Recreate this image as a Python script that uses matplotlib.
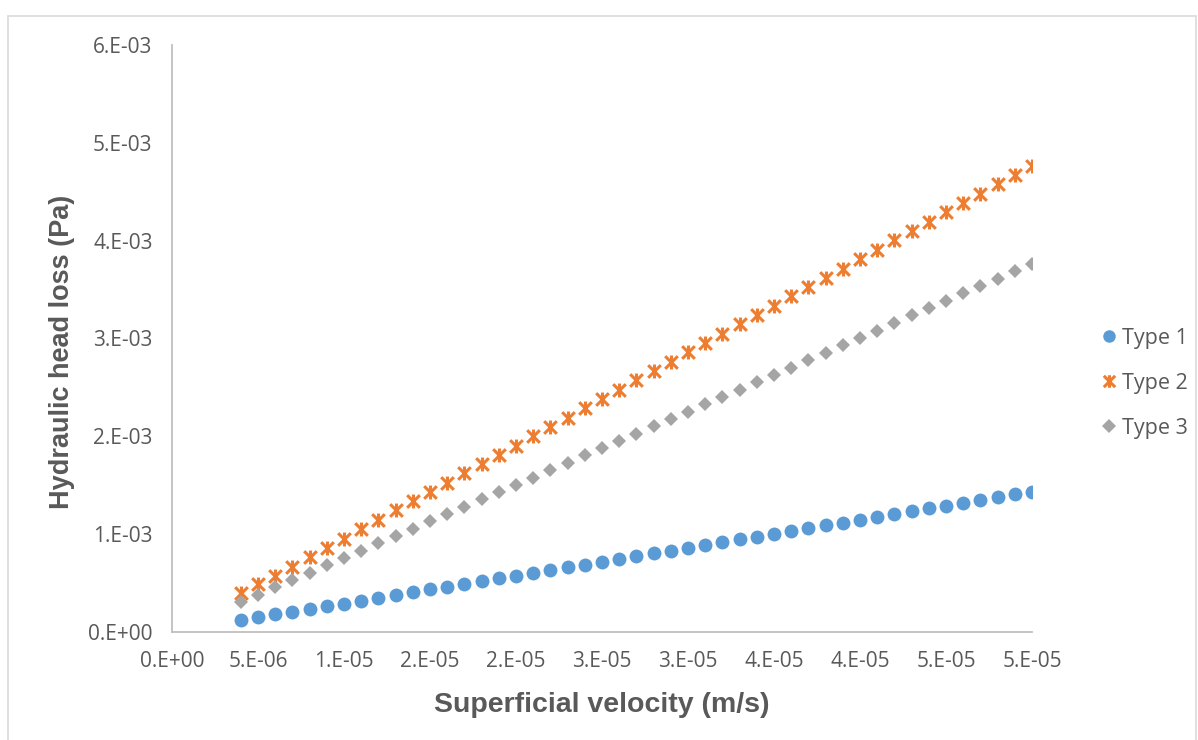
import numpy as np
import matplotlib.pyplot as plt
from matplotlib.path import Path
from matplotlib.patches import Rectangle

# superficial velocity, m/s (4e-6 .. 5e-5, one point per 1e-6)
velocity = np.arange(4, 51) * 1e-6

# hydraulic head loss (x 1e-3 Pa)
type1 = [0.123, 0.157, 0.181, 0.208, 0.235, 0.263, 0.290, 0.320, 0.351, 0.379,
         0.409, 0.437, 0.464, 0.494, 0.522, 0.549, 0.576, 0.603, 0.634, 0.662,
         0.686, 0.716, 0.747, 0.774, 0.805, 0.832, 0.859, 0.890, 0.917, 0.948,
         0.975, 1.006, 1.033, 1.064, 1.091, 1.118, 1.149, 1.178, 1.207, 1.234,
         1.265, 1.292, 1.323, 1.350, 1.378, 1.408, 1.435]
type2 = [0.396, 0.488, 0.576, 0.668, 0.764, 0.860, 0.955, 1.051, 1.146, 1.244,
         1.340, 1.432, 1.527, 1.623, 1.715, 1.810, 1.905, 2.001, 2.093, 2.192,
         2.285, 2.381, 2.476, 2.572, 2.668, 2.763, 2.858, 2.954, 3.046, 3.145,
         3.241, 3.337, 3.432, 3.527, 3.622, 3.714, 3.810, 3.906, 4.004, 4.099,
         4.195, 4.290, 4.386, 4.482, 4.577, 4.673, 4.768]
type3 = [0.307, 0.382, 0.457, 0.532, 0.607, 0.682, 0.757, 0.832, 0.907, 0.982,
         1.057, 1.132, 1.207, 1.282, 1.357, 1.432, 1.503, 1.578, 1.654, 1.731,
         1.806, 1.881, 1.956, 2.028, 2.103, 2.178, 2.253, 2.328, 2.403, 2.478,
         2.553, 2.628, 2.703, 2.778, 2.856, 2.931, 3.006, 3.081, 3.156, 3.236,
         3.311, 3.386, 3.461, 3.536, 3.612, 3.688, 3.763]

series_names = ['Type 1', 'Type 2', 'Type 3']

x_ticks = np.arange(0, 11) * 5e-6
x_labels = ['0.E+00', '5.E-06', '1.E-05', '2.E-05', '2.E-05', '3.E-05',
            '3.E-05', '4.E-05', '4.E-05', '5.E-05', '5.E-05']
y_ticks = np.arange(0, 7) * 1e-3
y_labels = ['0.E+00', '1.E-03', '2.E-03', '3.E-03', '4.E-03', '5.E-03', '6.E-03']

# excel style "star": an X with a vertical bar through it
star = Path([(-1, -1), (1, 1), (-1, 1), (1, -1), (0, -1.1), (0, 1.1)],
            [Path.MOVETO, Path.LINETO, Path.MOVETO, Path.LINETO, Path.MOVETO, Path.LINETO])

grey_txt = '#595959'
plt.rcParams['font.family'] = ['Open Sans', 'DejaVu Sans']

fig = plt.figure(figsize=(11.98, 7.40), dpi=100)
fig.patches.append(Rectangle((8 / 1198, -0.01), 1188 / 1198, 1 - 16 / 740 + 0.01,
                             transform=fig.transFigure, fill=False,
                             edgecolor='#D9D9D9', linewidth=1.2))
ax = fig.add_axes([172 / 1198, 1 - 632 / 740, (1032 - 172) / 1198, (632 - 45) / 740])

y1 = np.array(type1) * 1e-3
y2 = np.array(type2) * 1e-3
y3 = np.array(type3) * 1e-3
ax.plot(velocity, y1, 'o', color='#5B9BD5', markersize=10, markeredgewidth=0,
        label=series_names[0])
ax.plot(velocity, y2, linestyle='none', marker=star, color='#ED7D31',
        markersize=10, markeredgewidth=2.2, label=series_names[1])
ax.plot(velocity, y3, 'D', color='#A5A5A5', markersize=7.5, markeredgewidth=0,
        label=series_names[2])

ax.set_xlim(0, 5e-5)
ax.set_ylim(0, 6e-3)
ax.set_xticks(x_ticks)
ax.set_xticklabels(x_labels)
ax.set_yticks(y_ticks)
ax.set_yticklabels(y_labels)
ax.tick_params(length=0, labelsize=15, labelcolor=grey_txt)
ax.tick_params(axis='y', pad=14)
ax.tick_params(axis='x', pad=14)

for s in ['top', 'right']:
    ax.spines[s].set_visible(False)
for s in ['left', 'bottom']:
    ax.spines[s].set_color('#BFBFBF')
    ax.spines[s].set_linewidth(1.3)

ax.set_xlabel('Superficial velocity (m/s)', fontsize=20.5, fontweight='bold',
              color=grey_txt, family='Liberation Sans', labelpad=14)
ax.set_ylabel('Hydraulic head loss (Pa)', fontsize=19.5, fontweight='bold',
              color=grey_txt, family='Liberation Sans')
ax.yaxis.set_label_coords(-97 / 860, 0.477)

ax.legend(loc='center left', bbox_to_anchor=(1.055, 0.424), frameon=False,
          fontsize=15.5, labelcolor=grey_txt, handletextpad=0.1,
          labelspacing=1.12, markerscale=0.9, handlelength=1.0)

fig.savefig('out.png', dpi=100)
